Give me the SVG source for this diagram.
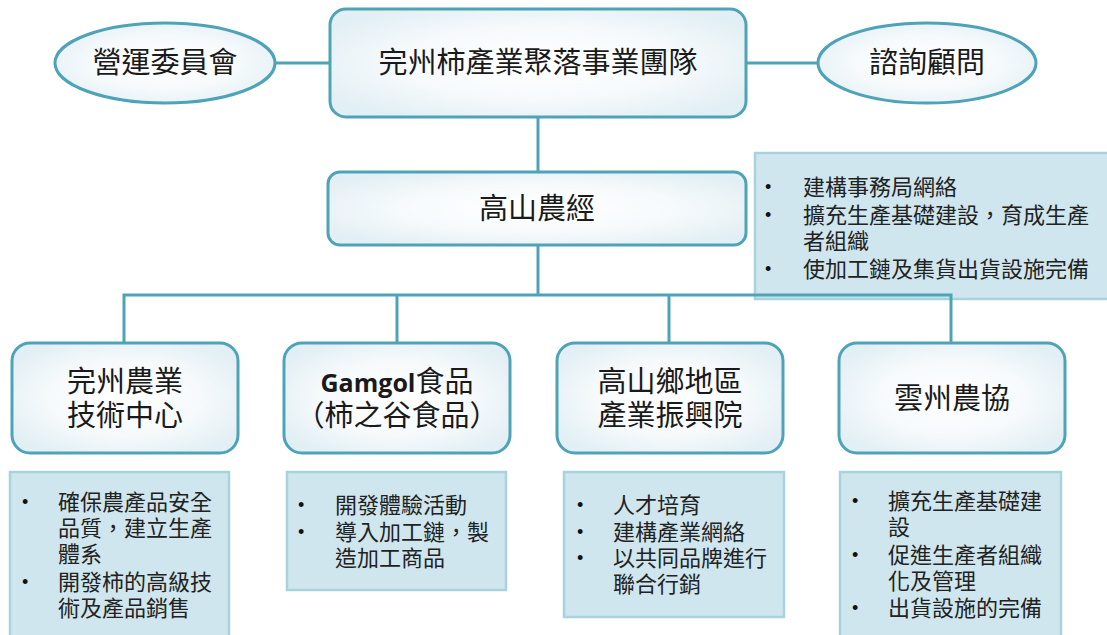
<svg xmlns="http://www.w3.org/2000/svg" width="1107" height="635" viewBox="0 0 1107 635">
<style>
.node{stroke:#4ea3b8;stroke-width:3;fill:url(#g)}
.note{fill:#cfe6ee;stroke:#a8d3de;stroke-width:2.5}
.t{font-family:"Noto Sans CJK TC","Noto Sans CJK SC",sans-serif;fill:#1a1a1a;font-size:29px;text-anchor:middle}
.n{font-family:"Noto Sans CJK TC","Noto Sans CJK SC",sans-serif;fill:#222;font-size:22px}
.b{font-family:"Liberation Sans",sans-serif;fill:#111;font-size:18px}
.c{stroke:#4ea3b8;stroke-width:3;fill:none}
</style>
<defs>
<radialGradient id="g" cx="50%" cy="50%" r="60%">
<stop offset="0" stop-color="#ffffff"/>
<stop offset="0.55" stop-color="#f6fafc"/>
<stop offset="1" stop-color="#e2eff4"/>
</radialGradient>
</defs>
<rect width="1107" height="635" fill="#fff"/>

<g id="note-top">
<rect class="note" x="755" y="153" width="360" height="146"/>
<text class="b" x="765" y="193">•</text><text class="n" x="803" y="195">建構事務局網絡</text>
<text class="b" x="765" y="221">•</text><text class="n" x="803" y="223">擴充生產基礎建設，育成生產</text>
<text class="n" x="803" y="249">者組織</text>
<text class="b" x="765" y="275">•</text><text class="n" x="803" y="277">使加工鏈及集貨出貨設施完備</text>
</g>

<g id="connectors">
<line class="c" x1="275" y1="63" x2="330" y2="63"/>
<line class="c" x1="746" y1="63" x2="818" y2="63"/>
<line class="c" x1="538" y1="117" x2="538" y2="172"/>
<line class="c" x1="538" y1="245" x2="538" y2="295"/>
<polyline class="c" points="124,343 124,295 951,295 951,343"/>
<line class="c" x1="397" y1="295" x2="397" y2="343"/>
<line class="c" x1="669" y1="295" x2="669" y2="343"/>
</g>

<g id="n-top">
<rect class="node" x="330" y="9" width="416" height="108" rx="16"/>
<text class="t" x="538" y="73">完州柿產業聚落事業團隊</text>
</g>
<g id="n-committee">
<ellipse class="node" cx="165" cy="63" rx="110" ry="40"/>
<text class="t" x="165" y="73">營運委員會</text>
</g>
<g id="n-advisor">
<ellipse class="node" cx="927" cy="63" rx="109" ry="40"/>
<text class="t" x="927" y="73">諮詢顧問</text>
</g>
<g id="n-gosan">
<rect class="node" x="328" y="172" width="418" height="73" rx="12"/>
<text class="t" x="537" y="219">高山農經</text>
</g>
<g id="n-tech">
<rect class="node" x="12" y="343" width="226" height="110" rx="18"/>
<text class="t" x="125" y="392">完州農業</text>
<text class="t" x="125" y="426">技術中心</text>
</g>
<g id="n-gamgol">
<rect class="node" x="284" y="343" width="226" height="110" rx="18"/>
<text class="t" x="397" y="392"><tspan font-family="'Open Sans','Noto Sans',sans-serif" font-weight="bold" font-size="25">Gamgol</tspan>食品</text>
<text class="t" x="397" y="426">（柿之谷食品）</text>
</g>
<g id="n-gosan-inst">
<rect class="node" x="557" y="343" width="226" height="110" rx="18"/>
<text class="t" x="670" y="392">高山鄉地區</text>
<text class="t" x="670" y="426">產業振興院</text>
</g>
<g id="n-unju">
<rect class="node" x="839" y="343" width="226" height="110" rx="18"/>
<text class="t" x="952" y="409">雲州農協</text>
</g>

<g id="note-a">
<rect class="note" x="10" y="472" width="219" height="170"/>
<text class="b" x="22" y="508">•</text><text class="n" x="58" y="510">確保農產品安全</text>
<text class="n" x="58" y="536">品質，建立生產</text>
<text class="n" x="58" y="562">體系</text>
<text class="b" x="22" y="588">•</text><text class="n" x="58" y="590">開發柿的高級技</text>
<text class="n" x="58" y="616">術及產品銷售</text>
</g>
<g id="note-b">
<rect class="note" x="287" y="472" width="219" height="118"/>
<text class="b" x="298" y="511">•</text><text class="n" x="335" y="513">開發體驗活動</text>
<text class="b" x="298" y="538">•</text><text class="n" x="335" y="540">導入加工鏈，製</text>
<text class="n" x="335" y="566">造加工商品</text>
</g>
<g id="note-c">
<rect class="note" x="564" y="472" width="220" height="145"/>
<text class="b" x="577" y="511">•</text><text class="n" x="613" y="513">人才培育</text>
<text class="b" x="577" y="538">•</text><text class="n" x="613" y="540">建構產業網絡</text>
<text class="b" x="577" y="564">•</text><text class="n" x="613" y="566">以共同品牌進行</text>
<text class="n" x="613" y="592">聯合行銷</text>
</g>
<g id="note-d">
<rect class="note" x="840" y="472" width="221" height="170"/>
<text class="b" x="852" y="507">•</text><text class="n" x="888" y="509">擴充生產基礎建</text>
<text class="n" x="888" y="535">設</text>
<text class="b" x="852" y="561">•</text><text class="n" x="888" y="563">促進生產者組織</text>
<text class="n" x="888" y="589">化及管理</text>
<text class="b" x="852" y="614">•</text><text class="n" x="888" y="616">出貨設施的完備</text>
</g>
</svg>
